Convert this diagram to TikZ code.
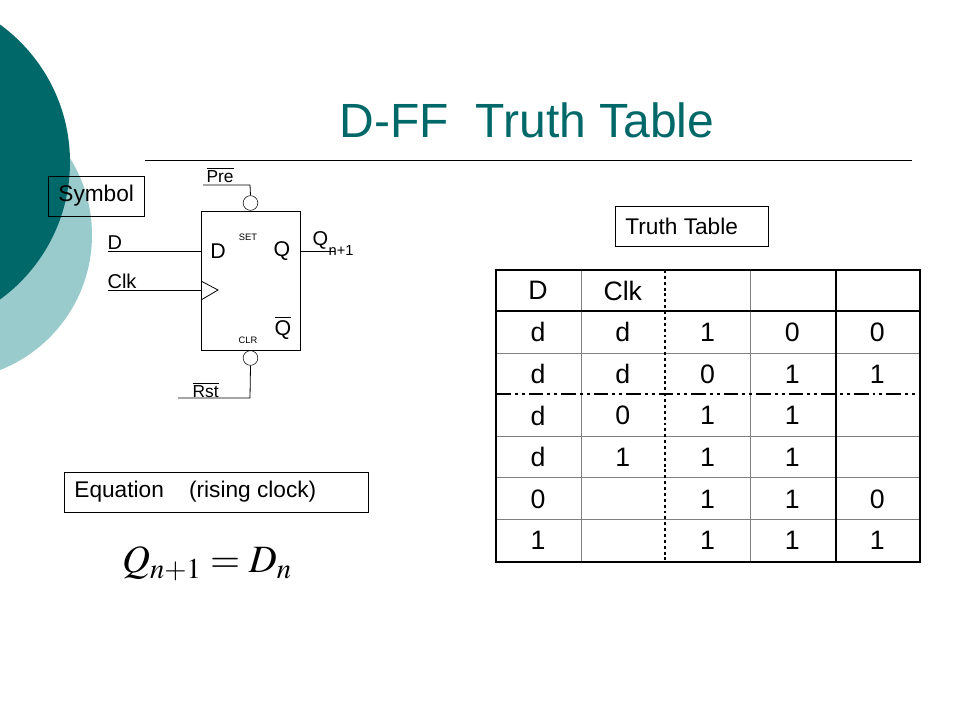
\documentclass[tikz,border=0pt]{standalone}
\usepackage{mathptmx}
\usepackage{fontspec}
\setmainfont{Liberation Sans}
\usetikzlibrary{positioning}
\definecolor{darkteal}{RGB}{0,104,104}
\definecolor{lightteal}{RGB}{153,202,204}

\tikzset{
  tag/.style={draw,line width=0.6pt,minimum height=30pt,inner xsep=7.5pt,
    anchor=west,align=flush left,font=\fontsize{17}{19}\selectfont},
  cell/.style={font=\fontsize{20}{22}\selectfont},
  pin/.style={font=\fontsize{15}{17}\selectfont,inner sep=1pt},
  tiny/.style={font=\fontsize{7}{8}\selectfont,inner sep=0pt},
  bubble/.style={draw,circle,minimum size=11pt,inner sep=0pt},
  heavy/.style={line width=2.2pt},
  light/.style={line width=0.7pt,gray}
}

\begin{document}
\begin{tikzpicture}[x=0.75pt,y=-0.75pt]
\useasboundingbox (0,0) rectangle (960,720);

% background discs
\begin{scope}
\clip (0,0) rectangle (960,720);
\fill[lightteal] (-53,235) circle (145);
\fill[darkteal] (-100,162) circle (170);
\end{scope}

\node[darkteal,font=\fontsize{36}{40}\selectfont] (title) at (527,120) {D-FF\ \ Truth Table};
\draw[line width=0.5pt] (145,160) -- (912,160);

\node[tag] (symbol) at (48,196) {Symbol};
\node[tag,minimum width=114.75pt,text width=100pt] (ttable) at (615,226) {Truth Table};
\node[tag,minimum width=228pt,text width=213pt] (equ) at (64,492) {Equation\ \ \ \ (rising clock)};

% flip-flop symbol
\node[draw,line width=0.6pt,minimum width=74.25pt,minimum height=104.25pt] (ff) at (250.5,280.5) {};
\node[pin,font=\fontsize{16}{18}\selectfont] (din) at (218,251) {D};
\node[pin,font=\fontsize{16}{18}\selectfont] (qin) at (282,251) {Q};
\node[pin,font=\fontsize{16}{18}\selectfont] (qbar) at (283,328) {$\overline{\hbox{Q}}$};
\node[tiny] (set) at (248,237) {SET};
\node[tiny] (clr) at (248,340) {CLR};
\node[bubble,above=0pt of ff.north] (pb) {};
\node[bubble,below=0pt of ff.south] (rb) {};

\coordinate (pc) at (250,185);
\coordinate (pl) at (203,185);
\coordinate (rc) at (250,398);
\coordinate (rl) at (178,398);
\draw[line width=0.6pt] (pb.north) -- (pc) -- (pl);
\draw[line width=0.6pt] (rb.south) -- (rc) -- (rl);
\node[pin,anchor=south west,font=\fontsize{13}{15}\selectfont] (pre) at (205,184) {$\overline{\hbox{Pre}}$};
\node[pin,anchor=south west,font=\fontsize{13}{15}\selectfont] (rst) at (191,399) {$\overline{\hbox{Rst}}$};

\coordinate (dl) at (108,251);
\coordinate (cl) at (108,290);
\coordinate (ql) at (335,251);
\draw[line width=0.6pt] (dl) -- (dl -| ff.west);
\draw[line width=0.6pt] (cl) -- (cl -| ff.west);
\draw[line width=0.6pt] (ff.east |- ql) -- (ql);
\draw[line width=0.6pt] (201,281) -- (218,290) -- (201,300);
\node[pin,anchor=south west] (dlab) at (106,251) {D};
\node[pin,anchor=south west] (clab) at (106,290) {Clk};
\node[pin,anchor=south west,font=\fontsize{15}{17}\selectfont] (qout) at (311,251) {Q};
\node[pin,anchor=south west,font=\fontsize{11}{13}\selectfont] (qsub) at (327,257) {n+1};

% equation
\node[font=\fontsize{29}{33}\selectfont] (eq) at (207,564) {$Q_{n+1}=D_n$};

% truth table
\draw[light] (581,270) -- (581,562);
\draw[light] (750,270) -- (750,562);
\foreach \y in {353,436,477,519}
  \draw[light] (496,\y) -- (920,\y);
\draw[heavy] (496,270) rectangle (920,562);
\draw[heavy] (496,311) -- (920,311);
\draw[heavy] (836,270) -- (836,562);
\draw[heavy,dash pattern=on 2.2pt off 2.2pt] (665,270) -- (665,562);
\draw[heavy,dash pattern=on 11pt off 3pt on 2.2pt off 3pt on 2.2pt off 3pt] (496,394) -- (920,394);

\foreach \txt [count=\i] in {D,Clk,,,,d,d,1,0,0,d,d,0,1,1,d,0,1,1,,d,1,1,1,,0,,1,1,0,1,,1,1,1}
  \pgfmathtruncatemacro{\r}{(\i-1)/5}
  \pgfmathtruncatemacro{\c}{mod(\i-1,5)}
  \node[cell] (c\r\c) at ({538+84.8*\c},{290.5+41.7*\r}) {\txt};

\end{tikzpicture}
\end{document}
